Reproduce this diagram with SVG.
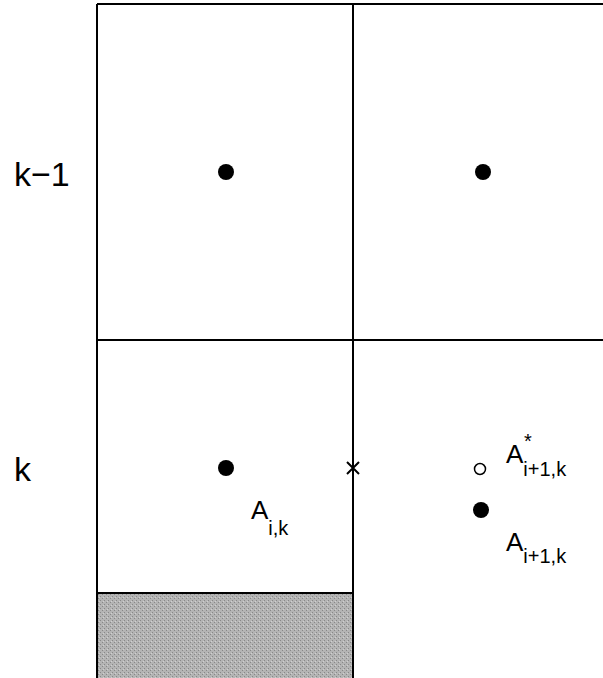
<svg xmlns="http://www.w3.org/2000/svg" width="603" height="678" viewBox="0 0 603 678">
<style>
.ln{stroke:#000;stroke-width:2;fill:none}
.dot{fill:#000}
.t{font-family:"Liberation Sans",Arial,sans-serif;fill:#000}
.lbl{font-size:34px}
.a{font-size:26px}
.s{font-size:20px}
</style>
<defs>
<pattern id="stip" width="4" height="4" patternUnits="userSpaceOnUse">
<rect width="4" height="4" fill="#b4b4b4"/>
<rect x="0" y="0" width="1" height="1" fill="#888"/>
<rect x="2" y="2" width="1" height="1" fill="#888"/>
<rect x="3" y="1" width="1" height="1" fill="#d0d0d0"/>
</pattern>
</defs>
<rect width="603" height="678" fill="#fff"/>
<g id="shade"><rect x="97" y="593" width="256" height="85" fill="url(#stip)"/></g>
<g id="grid">
<line class="ln" x1="97" y1="4" x2="603" y2="4"/>
<line class="ln" x1="97" y1="340" x2="603" y2="340"/>
<line class="ln" x1="97" y1="593" x2="353" y2="593"/>
<line class="ln" x1="97" y1="4" x2="97" y2="678"/>
<line class="ln" x1="353" y1="4" x2="353" y2="678"/>
</g>
<g id="row-labels">
<text class="t lbl" x="14" y="186">k−1</text>
<text class="t lbl" x="14" y="481">k</text>
</g>
<g id="n-top-left"><circle class="dot" cx="226" cy="172" r="8"/></g>
<g id="n-top-right"><circle class="dot" cx="483" cy="172" r="8"/></g>
<g id="n-aik"><circle class="dot" cx="226" cy="468" r="8"/>
<text class="t a" x="251" y="519">A<tspan class="s" dy="16">i,k</tspan></text></g>
<g id="n-cross"><path class="ln" d="M347 462 L359 474 M359 462 L347 474" stroke-width="1.5"/></g>
<g id="n-astar"><circle cx="480" cy="469" r="5.5" fill="#fff" stroke="#000" stroke-width="1.5"/>
<text class="t a" x="506" y="463">A<tspan class="s" dy="13">i+1,k</tspan></text>
<text class="t s" x="524" y="448">*</text></g>
<g id="n-ai1k"><circle class="dot" cx="481" cy="510" r="8"/>
<text class="t a" x="506" y="551">A<tspan class="s" dy="12">i+1,k</tspan></text></g>
</svg>
